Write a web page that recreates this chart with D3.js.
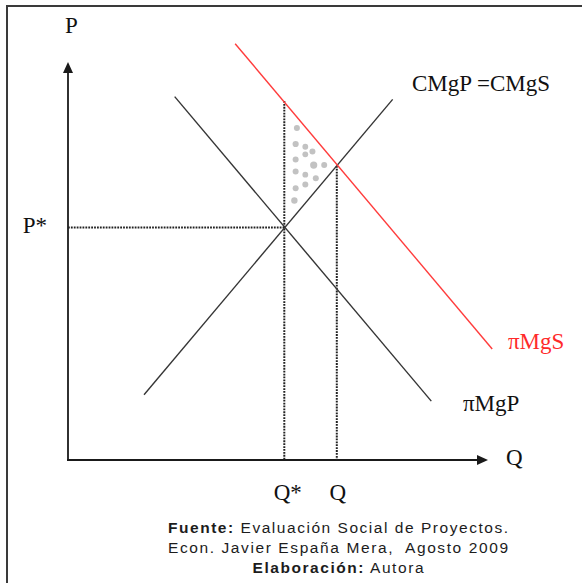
<!DOCTYPE html>
<html>
<head>
<meta charset="utf-8">
<script src="https://cdn.jsdelivr.net/npm/d3@7"></script>
<style>
  html, body { margin: 0; padding: 0; background: #fff; }
  svg { display: block; }
  text { white-space: pre; }
</style>
</head>
<body>
<div id="chart"></div>
<script>
// Curves in model units (quantity q, price p), each given by its two end points
const privateBenefit = [{ q: 25.4, p: 91.3 }, { q: 86.5, p: 14.8 }];   // πMgP
const marginalCost   = [{ q: 18.1, p: 16.4 }, { q: 77.3, p: 90.6 }];   // CMgP = CMgS
const socialBenefit  = [{ q: 39.8, p: 104.6 }, { q: 101.0, p: 27.9 }]; // πMgS

// Equilibria
const qStar = 51.5, pStar = 58.4;      // private equilibrium (Q*, P*)
const qMarket = 64.0, pMarket = 73.9;  // social equilibrium (Q)

// Welfare-gain triangle, dotted fill
const gainDots = [
  { q: 54.5, p: 83.4, r: 3.0 }, { q: 54.2, p: 79.4, r: 3.1 }, { q: 56.5, p: 78.7, r: 2.9 },
  { q: 58.2, p: 77.5, r: 3.0 }, { q: 56.5, p: 76.8, r: 2.9 }, { q: 54.2, p: 75.5, r: 3.0 },
  { q: 58.5, p: 74.1, r: 3.6 }, { q: 61.0, p: 74.1, r: 3.0 }, { q: 54.2, p: 72.5, r: 3.0 },
  { q: 56.5, p: 71.7, r: 2.9 }, { q: 59.0, p: 70.8, r: 3.0 }, { q: 56.5, p: 69.2, r: 3.0 },
  { q: 54.2, p: 68.3, r: 3.0 }, { q: 53.9, p: 65.2, r: 3.2 }
];

// Caption lines: [bold lead, rest]
const captionLines = [
  ["Fuente:", " Evaluación Social de Proyectos."],
  ["", "Econ. Javier España Mera,  Agosto 2009"],
  ["Elaboración:", " Autora"]
];

const W = 582, H = 583;
const svg = d3.select("#chart").append("svg").attr("width", W).attr("height", H);

// Frame
svg.append("rect")
  .attr("x", 7).attr("y", 6).attr("width", 620).attr("height", 620)
  .attr("fill", "none").attr("stroke", "#3a3a3a").attr("stroke-width", 2);

const x = d3.scaleLinear().domain([0, 100]).range([68, 488]);
const y = d3.scaleLinear().domain([0, 100]).range([460, 62]);

const line = d3.line().x(d => x(d.q)).y(d => y(d.p));

// Axes with arrow heads
const axisColor = "#1a1a1a";
svg.append("line")
  .attr("x1", x(0)).attr("y1", y(0)).attr("x2", x(0)).attr("y2", y(100) + 10)
  .attr("stroke", axisColor).attr("stroke-width", 1.8);
svg.append("line")
  .attr("x1", x(0) - 1).attr("y1", y(0)).attr("x2", x(100) - 10).attr("y2", y(0))
  .attr("stroke", axisColor).attr("stroke-width", 1.8);
svg.append("path")
  .attr("d", `M${x(0)},${y(100)} L${x(0) - 5},${y(100) + 11} L${x(0) + 5},${y(100) + 11} Z`)
  .attr("fill", axisColor);
svg.append("path")
  .attr("d", `M${x(100)},${y(0)} L${x(100) - 11},${y(0) - 5} L${x(100) - 11},${y(0) + 5} Z`)
  .attr("fill", axisColor);

// Red line value at a given quantity (for the top of the Q* guide)
function pAt(seg, q) {
  const [a, b] = seg;
  return a.p + (b.p - a.p) * (q - a.q) / (b.q - a.q);
}

// Dotted guides
const guide = g => g.attr("stroke", "#222").attr("stroke-width", 2)
  .attr("stroke-dasharray", "1.8,1.1").attr("fill", "none");
svg.append("line")
  .attr("x1", x(0)).attr("y1", y(pStar)).attr("x2", x(qStar)).attr("y2", y(pStar))
  .call(guide);
svg.append("line")
  .attr("x1", x(qStar)).attr("y1", y(pAt(socialBenefit, qStar)) - 1).attr("x2", x(qStar)).attr("y2", y(0))
  .call(guide);
svg.append("line")
  .attr("x1", x(qMarket)).attr("y1", y(pMarket)).attr("x2", x(qMarket)).attr("y2", y(0))
  .call(guide);

// Dotted fill of the triangle
svg.append("g").selectAll("circle").data(gainDots).join("circle")
  .attr("cx", d => x(d.q)).attr("cy", d => y(d.p)).attr("r", d => d.r)
  .attr("fill", "#c2c2c2");

// Curves
svg.append("path").datum(privateBenefit).attr("d", line)
  .attr("fill", "none").attr("stroke", "#353535").attr("stroke-width", 1.4);
svg.append("path").datum(marginalCost).attr("d", line)
  .attr("fill", "none").attr("stroke", "#353535").attr("stroke-width", 1.4);
svg.append("path").datum(socialBenefit).attr("d", line)
  .attr("fill", "none").attr("stroke", "#ff3c3c").attr("stroke-width", 1.4);

// Serif labels
const serif = "'Liberation Serif', 'Times New Roman', serif";
function label(text, lx, ly, opts = {}) {
  return svg.append("text")
    .attr("x", lx).attr("y", ly)
    .attr("font-family", serif).attr("font-size", opts.size || 23)
    .attr("fill", opts.color || "#111")
    .attr("text-anchor", opts.anchor || "start")
    .text(text);
}
label("P", x(0) - 3, 33);
label("Q", x(100) + 18, y(0) + 5);
label("P*", x(0) - 21, y(pStar) + 5, { anchor: "end" });
label("Q*", x(qStar) + 3.5, 500, { anchor: "middle" });
label("Q", x(qMarket) + 1, 500, { anchor: "middle" });
label("CMgP =CMgS", 412, 91);
label("πMgS", 508, 349, { color: "#ff2a2a" });
label("πMgP", 463, 411);

// Caption
const sans = "'Liberation Sans', Arial, sans-serif";
const captionLayout = [
  { x: 168, y: 533, len: 340 },
  { x: 168, y: 553, len: 340 },
  { x: 252.5, y: 573, len: 171 }
];
captionLines.forEach((parts, i) => {
  const L = captionLayout[i];
  const t = svg.append("text")
    .attr("x", L.x).attr("y", L.y)
    .attr("font-family", sans).attr("font-size", 15.5)
    .attr("fill", "#1c1c1c")
    .attr("textLength", L.len).attr("lengthAdjust", "spacing");
  if (parts[0]) t.append("tspan").attr("font-weight", "bold").text(parts[0]);
  t.append("tspan").text(parts[1]);
});
</script>
</body>
</html>
